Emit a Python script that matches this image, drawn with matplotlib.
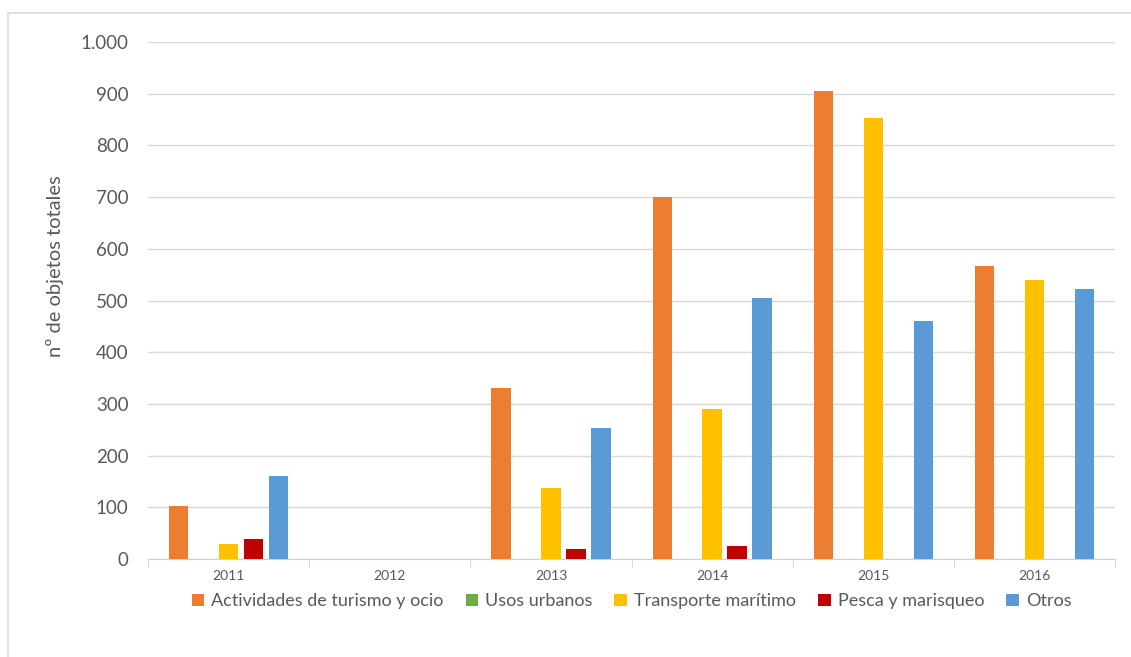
import numpy as np
import matplotlib.pyplot as plt
from matplotlib.patches import Rectangle

plt.rcParams['font.family'] = ['Lato', 'DejaVu Sans']

years = ['2011', '2012', '2013', '2014', '2015', '2016']
series = ['Actividades de turismo y ocio', 'Usos urbanos', 'Transporte marítimo',
          'Pesca y marisqueo', 'Otros']
turismo = [103, 0, 330, 700, 905, 566]
urbanos = [0, 0, 0, 0, 0, 0]
transporte = [29, 0, 138, 290, 853, 540]
pesca = [38, 0, 20, 26, 0, 0]
otros = [161, 0, 253, 505, 460, 523]
colors = ['#ED7D31', '#70AD47', '#FFC000', '#C00000', '#5B9BD5']

values = [turismo, urbanos, transporte, pesca, otros]

fig = plt.figure(figsize=(11.31, 6.57), dpi=100)
ax = fig.add_axes([0.1309, 0.1492, 0.855, 0.7868])

x = np.arange(len(years))
for i, (name, vals, c) in enumerate(zip(series, values, colors)):
    ax.bar(x + (i - 2) * 0.155, vals, width=0.12, color=c, label=name, zorder=3)

ax.set_xlim(-0.5, len(years) - 0.5)
ax.set_ylim(0, 1000)
ax.set_yticks(range(0, 1001, 100))
ax.set_yticklabels(['1.000' if v == 1000 else str(v) for v in range(0, 1001, 100)])
ax.set_xticks(x)
ax.set_xticklabels(years)
ax.set_xticks(np.arange(-0.5, len(years), 1), minor=True)

ax.grid(axis='y', color='#d9d9d9', linewidth=1, zorder=0)
for s in ['top', 'right', 'left']:
    ax.spines[s].set_visible(False)
ax.spines['bottom'].set_color('#d0d0d0')
ax.tick_params(axis='y', length=0, pad=14, labelsize=13.5, labelcolor='#595959')
ax.tick_params(axis='x', which='major', length=0, pad=8, labelsize=10, labelcolor='#595959')
ax.tick_params(axis='x', which='minor', length=6, color='#d0d0d0')

ax.set_ylabel('nº de objetos totales', fontsize=14.5, color='#595959')
ax.yaxis.set_label_coords(-0.087, 0.567)

ax.legend(loc='upper center', bbox_to_anchor=(0.5, -0.035), ncol=5, frameon=False,
          fontsize=13, labelcolor='#595959', handlelength=0.7, handleheight=0.7,
          handletextpad=0.4, columnspacing=1.2)

fig.patches.append(Rectangle((8 / 1131, -0.1), 1.2, 1.1 - 13 / 657, fill=False,
                             edgecolor='#d9d9d9', linewidth=1.2,
                             transform=fig.transFigure, figure=fig))

fig.savefig('out.png', dpi=100)
